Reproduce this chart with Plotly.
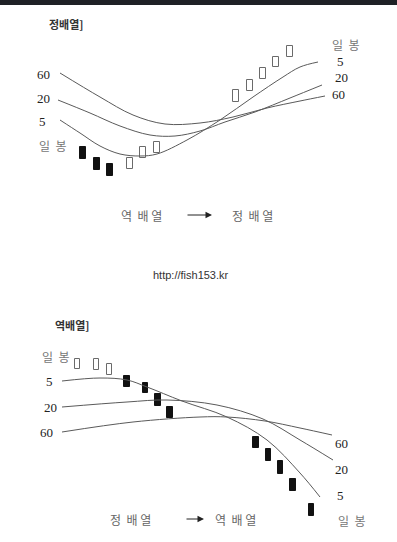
import plotly.graph_objects as go

# ---------------- data (in picture units) ----------------
# Upper diagram: 정배열 (moving averages turning from reverse to normal order)
top_ma5_x = [60, 80, 100, 120, 140, 157, 187, 220, 253, 283, 300, 318]
top_ma5_y = [120, 133, 146, 154, 156, 154, 140, 120, 97, 77, 67, 62]
top_ma20_x = [58, 90, 120, 150, 175, 200, 225, 255, 290, 322]
top_ma20_y = [100, 113, 126, 135, 136, 131, 122, 112, 98, 85]
top_ma60_x = [60, 100, 133, 165, 200, 233, 267, 300, 325]
top_ma60_y = [73, 97, 115, 124, 123, 117, 108, 101, 96]

top_black_x = [82.5, 96.5, 109.5]
top_black_hi = [147, 158, 164]
top_black_lo = [159, 170, 176]
top_white_x = [130, 143, 156.5, 236, 249.5, 262.5, 276, 289.5]
top_white_hi = [158, 147, 142, 90, 80, 68, 57, 46]
top_white_lo = [169, 158, 153, 102, 91, 79, 67, 57]

# Lower diagram: 역배열 (moving averages turning from normal to reverse order)
bot_ma5_x = [62, 100, 127, 147, 182, 227, 267, 300, 320]
bot_ma5_y = [381, 378, 380, 387, 401, 417, 440, 473, 497]
bot_ma20_x = [62, 127, 167, 217, 263, 300, 333]
bot_ma20_y = [407, 402, 400, 405, 419, 440, 460]
bot_ma60_x = [62, 133, 200, 227, 265, 300, 332]
bot_ma60_y = [432, 422, 417, 417, 421, 428, 435]

bot_white_x = [77.5, 96, 109]
bot_white_hi = [359, 359, 364]
bot_white_lo = [369, 370, 375]
bot_black_x = [127, 145.5, 158, 170, 256, 268.5, 280.5, 293, 311.5]
bot_black_hi = [376, 383, 394, 407, 437, 449, 461, 479, 504]
bot_black_lo = [387, 393, 406, 418, 448, 461, 474, 491, 516]

ma_labels = ["5", "20", "60"]

LINE = "#5a5a5a"
fig = go.Figure()

def curve(xs, ys):
    fig.add_trace(go.Scatter(x=xs, y=ys, mode="lines", line=dict(color=LINE, width=1, shape="spline"),
                             hoverinfo="skip", showlegend=False))

for xs, ys in [(top_ma5_x, top_ma5_y), (top_ma20_x, top_ma20_y), (top_ma60_x, top_ma60_y),
               (bot_ma5_x, bot_ma5_y), (bot_ma20_x, bot_ma20_y), (bot_ma60_x, bot_ma60_y)]:
    curve(xs, ys)

def candles(xs, hi, lo, filled, width):
    fig.add_trace(go.Bar(
        x=xs, y=[l - h for h, l in zip(hi, lo)], base=hi, width=width,
        marker=dict(color="#111111" if filled else "#ffffff",
                    line=dict(color="#111111" if filled else "#6a6a6a", width=1)),
        hoverinfo="skip", showlegend=False))

candles(top_black_x, top_black_hi, top_black_lo, True, 6)
candles(top_white_x, top_white_hi, top_white_lo, False, 6)
candles(bot_white_x, bot_white_hi, bot_white_lo, False, 5)
candles(bot_black_x, bot_black_hi, bot_black_lo, True, 5.5)

SERIF = "Liberation Serif"
KR = "Noto Sans CJK KR"

def txt(x, y, s, size=13, color="#222", family=SERIF, anchor="center"):
    fig.add_annotation(x=x, y=y, text=s, showarrow=False, xref="x", yref="y",
                       xanchor=anchor, yanchor="middle",
                       font=dict(family=family, size=size, color=color))

# titles
txt(47, 24, "<b>정배열]</b>", size=11, color="#333", family=KR, anchor="left")
txt(53, 325, "<b>역배열]</b>", size=11, color="#333", family=KR, anchor="left")

# upper diagram labels
txt(43, 74, "60", anchor="center")
txt(43, 98, "20", anchor="center")
txt(42, 121, ma_labels[0], anchor="center")
txt(52, 145, "일  봉", size=12, color="#777", family=KR)
txt(345, 44, "일  봉", size=12, color="#777", family=KR)
txt(340, 61, ma_labels[0])
txt(341, 77, ma_labels[1])
txt(338, 94, ma_labels[2])

# lower diagram labels
txt(55, 356, "일  봉", size=12, color="#777", family=KR)
txt(49, 381, ma_labels[0])
txt(50, 407, ma_labels[1])
txt(46, 432, ma_labels[2])
txt(341, 443, ma_labels[2])
txt(341, 469, ma_labels[1])
txt(340, 495, ma_labels[0])
txt(351, 520, "일  봉", size=12, color="#777", family=KR)

# transition captions
txt(141, 215, "역  배 열", size=12, color="#666", family=KR)
txt(252, 215, "정  배 열", size=12, color="#666", family=KR)
txt(130, 519, "정  배 열", size=12, color="#666", family=KR)
txt(235, 519, "역  배 열", size=12, color="#666", family=KR)

for (x0, x1, y) in [(186, 212, 215), (185, 204, 519)]:
    fig.add_annotation(x=x1, y=y, ax=x0, ay=y, xref="x", yref="y", axref="x", ayref="y",
                       text="", showarrow=True, arrowhead=2, arrowsize=1.3, arrowwidth=1,
                       arrowcolor="#222")

# source url
txt(191, 275, "http://fish153.kr", size=11, color="#333", family="Liberation Sans")

# dark strip at the very top of the picture
fig.add_shape(type="rect", xref="x", yref="y", x0=0, x1=397, y0=0, y1=5,
              fillcolor="#1f2126", line=dict(width=0), layer="above")

fig.update_layout(
    width=397, height=542, margin=dict(l=0, r=0, t=0, b=0),
    paper_bgcolor="#ffffff", plot_bgcolor="#ffffff", barmode="overlay", bargap=0,
    xaxis=dict(range=[0, 397], visible=False, fixedrange=True),
    yaxis=dict(range=[542, 0], visible=False, fixedrange=True),
)

fig.write_html("out.html", config={"displayModeBar": False},
               post_script="document.body.style.margin='0';document.body.style.overflow='hidden';")
